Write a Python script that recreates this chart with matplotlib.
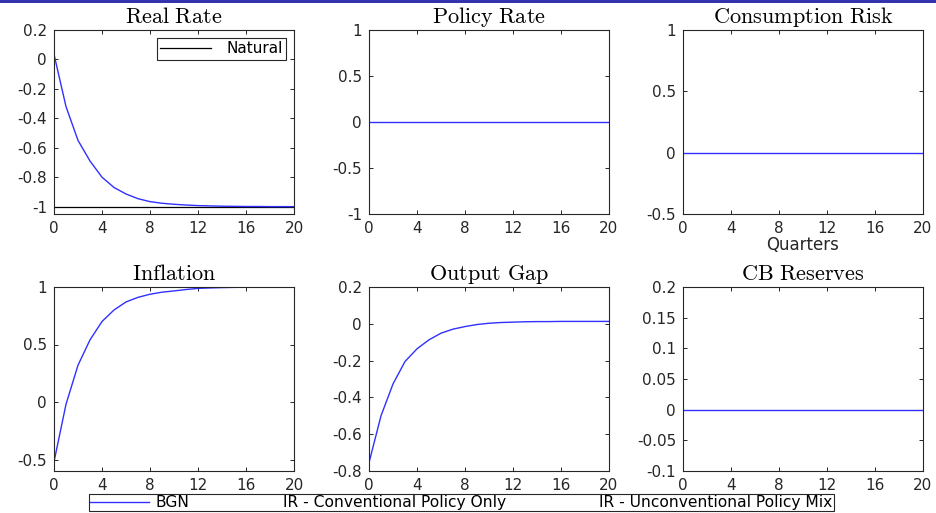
import matplotlib
matplotlib.use("Agg")
import matplotlib.pyplot as plt
from matplotlib.lines import Line2D
from matplotlib.patches import Rectangle
from matplotlib.ticker import FuncFormatter

# -----------------------------
# DATA - impulse responses
# -----------------------------
quarters = [0, 1, 2, 3, 4, 5, 6, 7, 8, 9, 10, 11, 12, 13, 14, 15, 16, 17, 18, 19, 20]

real_rate = [0.035, -0.32, -0.55, -0.69, -0.80, -0.87, -0.914, -0.946, -0.966, -0.977,
             -0.984, -0.989, -0.993, -0.995, -0.997, -0.998, -0.999, -0.999, -1.0, -1.0, -1.0]
natural = [-1, -1, -1, -1, -1, -1, -1, -1, -1, -1, -1, -1, -1, -1, -1, -1, -1, -1, -1, -1, -1]
policy_rate = [0, 0, 0, 0, 0, 0, 0, 0, 0, 0, 0, 0, 0, 0, 0, 0, 0, 0, 0, 0, 0]
consumption_risk = [0, 0, 0, 0, 0, 0, 0, 0, 0, 0, 0, 0, 0, 0, 0, 0, 0, 0, 0, 0, 0]
inflation = [-0.52, -0.02, 0.32, 0.54, 0.70, 0.80, 0.87, 0.91, 0.937, 0.955, 0.966,
             0.978, 0.988, 0.992, 0.995, 0.997, 0.998, 0.999, 1.0, 1.0, 1.0]
output_gap = [-0.755, -0.50, -0.327, -0.205, -0.136, -0.087, -0.051, -0.029, -0.015, -0.004,
              0.003, 0.007, 0.009, 0.011, 0.012, 0.012, 0.013, 0.013, 0.013, 0.013, 0.013]
cb_reserves = [0, 0, 0, 0, 0, 0, 0, 0, 0, 0, 0, 0, 0, 0, 0, 0, 0, 0, 0, 0, 0]

titles = ["Real Rate", "Policy Rate", "Consumption Risk",
          "Inflation", "Output Gap", "CB Reserves"]
series = [real_rate, policy_rate, consumption_risk, inflation, output_gap, cb_reserves]
ylims = [(-1.05, 0.2), (-1, 1), (-0.5, 1), (-0.6, 1), (-0.8, 0.2), (-0.1, 0.2)]
yticks = [[-1, -0.8, -0.6, -0.4, -0.2, 0, 0.2],
          [-1, -0.5, 0, 0.5, 1],
          [-0.5, 0, 0.5, 1],
          [-0.5, 0, 0.5, 1],
          [-0.8, -0.6, -0.4, -0.2, 0, 0.2],
          [-0.1, -0.05, 0, 0.05, 0.1, 0.15, 0.2]]
xticks = [0, 4, 8, 12, 16, 20]
legend_labels = ["BGN", "IR - Conventional Policy Only", "IR - Unconventional Policy Mix"]

# -----------------------------
# STYLE
# -----------------------------
plt.rcParams["font.family"] = ["DejaVu Sans"]
plt.rcParams["mathtext.fontset"] = "cm"
plt.rcParams["axes.unicode_minus"] = False

BLUE = "#3030ff"
DARK = "#262626"
W, H = 936, 513

fig = plt.figure(figsize=(W / 100, H / 100), dpi=100)

# blue slide header strip at the very top
fig.patches.append(Rectangle((0, 1 - 3 / H), 1, 3 / H, transform=fig.transFigure,
                             facecolor="#3434b0", edgecolor="none"))

lefts = [54, 369, 683]
tops = [30, 287]
aw, ah = 240, 184

fmt = FuncFormatter(lambda v, p: "%g" % round(v, 4))

axes = []
for i in range(6):
    r, c = divmod(i, 3)
    ax = fig.add_axes([lefts[c] / W, 1 - (tops[r] + ah) / H, aw / W, ah / H])
    if i == 0:
        ax.plot(quarters, natural, color="black", lw=0.9, label="Natural")
    ax.plot(quarters, series[i], color=BLUE, lw=1.0)
    ax.set_xlim(0, 20)
    ax.set_ylim(*ylims[i])
    ax.set_xticks(xticks)
    ax.set_yticks(yticks[i])
    ax.yaxis.set_major_formatter(fmt)
    ax.tick_params(direction="in", length=3, width=0.7, top=True, right=True,
                   labelsize=11, colors=DARK, pad=5)
    for s in ax.spines.values():
        s.set_color(DARK)
        s.set_linewidth(0.8)
    words = titles[i].replace(" ", r"\ ")
    ax.set_title(r"$\mathrm{" + words + "}$", fontsize=16, pad=5, color="black")
    axes.append(ax)

axes[2].set_xlabel("Quarters", fontsize=12, color=DARK, labelpad=0)

# legend inside Real Rate panel
leg = axes[0].legend(loc="upper right", fontsize=11, handlelength=3.3, handletextpad=1.0,
                     borderaxespad=0.55, fancybox=False, framealpha=1, borderpad=0.2)
leg.get_frame().set_edgecolor(DARK)
leg.get_frame().set_linewidth(0.8)

# -----------------------------
# SHARED LEGEND AT THE BOTTOM
# -----------------------------
handles = [Line2D([], [], color=BLUE, lw=1.0),
           Line2D([], [], color="none", lw=1.0),
           Line2D([], [], color="none", lw=1.0)]
fleg = fig.legend(handles, legend_labels, loc="upper left", ncol=3,
                  bbox_to_anchor=(89 / W, 1 - 494 / H), fontsize=11.2,
                  handlelength=3.8, handletextpad=0.4, columnspacing=1.8,
                  fancybox=False, framealpha=1, borderpad=0.08, borderaxespad=0)
fleg.get_frame().set_edgecolor(DARK)
fleg.get_frame().set_linewidth(0.8)

fig.savefig("out.png", dpi=100)
